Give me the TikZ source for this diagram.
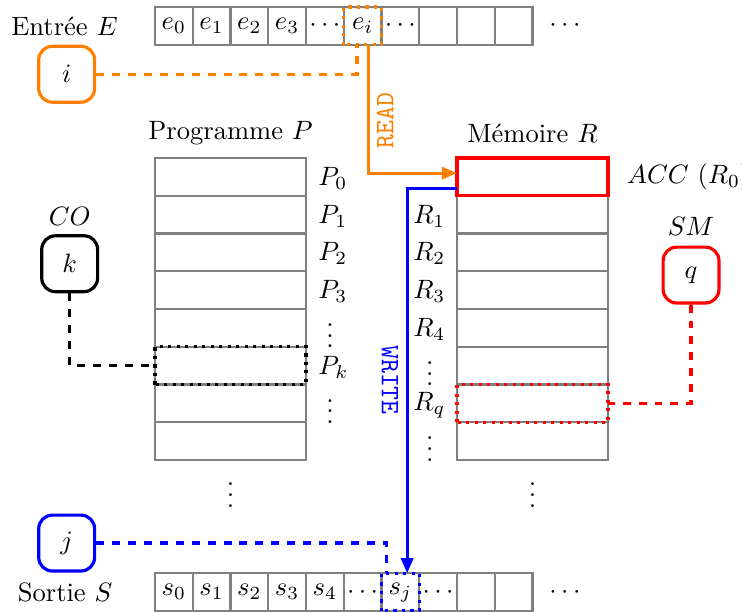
\documentclass[tikz,border=0pt]{standalone}
\usepackage{fontspec}
\usetikzlibrary{arrows.meta}
\begin{document}
\begin{tikzpicture}[
    cell/.style={draw=gray,thick,minimum size=5mm,inner sep=0pt,outer sep=0pt},
    row/.style={draw=gray,thick,minimum width=2cm,minimum height=5mm,inner sep=0pt,outer sep=0pt},
    reg/.style={draw=#1,very thick,rounded corners=1.8mm,minimum size=7.4mm},
    reg/.default=black,
    link/.style={very thick,dashed},
    sel/.style={very thick,dotted},
    op/.style={very thick,-{Triangle[length=2mm,width=1.6mm]}},
    ]
    \useasboundingbox (-2.053,-6.013) rectangle (7.775,2.093);
    \foreach \t [count=\n from 0] in {$e_0$,$e_1$,$e_2$,$e_3$,$\cdots$,$e_i$,$\cdots$,{},{},{}}
      \node[cell] (e\n) at (0.25+0.5*\n,1.75) {\t};
    \foreach \t [count=\n from 0] in {$s_0$,$s_1$,$s_2$,$s_3$,$s_4$,$\cdots$,$s_j$,$\cdots$,{},{}}
      \node[cell] (s\n) at (0.25+0.5*\n,-5.75) {\t};
    \foreach \n in {0,...,7} {
      \node[row] (p\n) at (1,-0.25-0.5*\n) {};
      \node[row] (m\n) at (5,-0.25-0.5*\n) {};
    }
    \draw[red,very thick] (m0.south west) rectangle (m0.north east);
    \foreach \t [count=\n from 0] in {$P_0$,$P_1$,$P_2$,$P_3$,{},$P_k$}
      \node[anchor=west] (pl\n) at (2.04,-0.27-0.5*\n) {\t};
    \foreach \t [count=\n from 1] in {$R_1$,$R_2$,$R_3$,$R_4$,{},$R_q$}
      \node[anchor=east] (ml\n) at (3.97,-0.27-0.5*\n) {\t};
    \path (2.32,-2.25) node (pv1) {$\vdots$}
          (2.32,-3.25) node (pv2) {$\vdots$}
          (3.64,-2.75) node (mv1) {$\vdots$}
          (3.64,-3.75) node (mv2) {$\vdots$};
    \path (-0.37,1.75)  node[anchor=east] (E) {Entrée $E$}
          (-0.44,-5.75) node[anchor=east] (S) {Sortie $S$}
          (5.43,1.75)   node (edots) {$\cdots$}
          (5.43,-5.75)  node (sdots) {$\cdots$}
          (1,0.33)      node (P) {Programme $P$}
          (5,0.33)      node (R) {Mémoire $R$}
          (1,-4.36)     node (pdots) {$\vdots$}
          (5,-4.36)     node (mdots) {$\vdots$}
          (6.13,-0.25)  node[anchor=west] (acc) {$ACC$ $(R_0)$};
    \path (-1.17,1.11)  node[reg=orange] (i) {$i$}
          (-1.13,-1.40) node[reg] (k) {$k$}
          (-1.13,-0.77) node (CO) {$CO$}
          (7.1,-1.55)   node[reg=red] (q) {$q$}
          (7.1,-0.9)    node (SM) {$SM$}
          (-1.17,-5.1)  node[reg=blue] (j) {$j$};
    \draw[sel,orange] (e5.south west) rectangle (e5.north east);
    \draw[sel] (p5.south west) rectangle (p5.north east);
    \draw[sel,red] (m6.south west) rectangle (m6.north east);
    \draw[sel,blue] (s6.south west) rectangle (s6.north east);
    \draw[link,orange] (i.east) -| ([xshift=-0.75mm]e5.south);
    \draw[link] (k.south) |- (p5.west);
    \draw[link,red] (q.south) |- (m6.east);
    \draw[link,blue] (j.east) -| ([xshift=-1.8mm]s6.north);
    \draw[op,orange] ([xshift=0.75mm]e5.south) |- ([yshift=0.5mm]m0.west);
    \draw[op,blue] ([yshift=-1.5mm]m0.west) -| ([xshift=0.9mm]s6.north);
    \node[orange,rotate=90,font=\ttfamily] (read) at (3.05,0.5) {READ};
    \node[blue,rotate=-90,font=\ttfamily] (write) at (3.11,-2.94) {WRITE};
\end{tikzpicture}
\end{document}
